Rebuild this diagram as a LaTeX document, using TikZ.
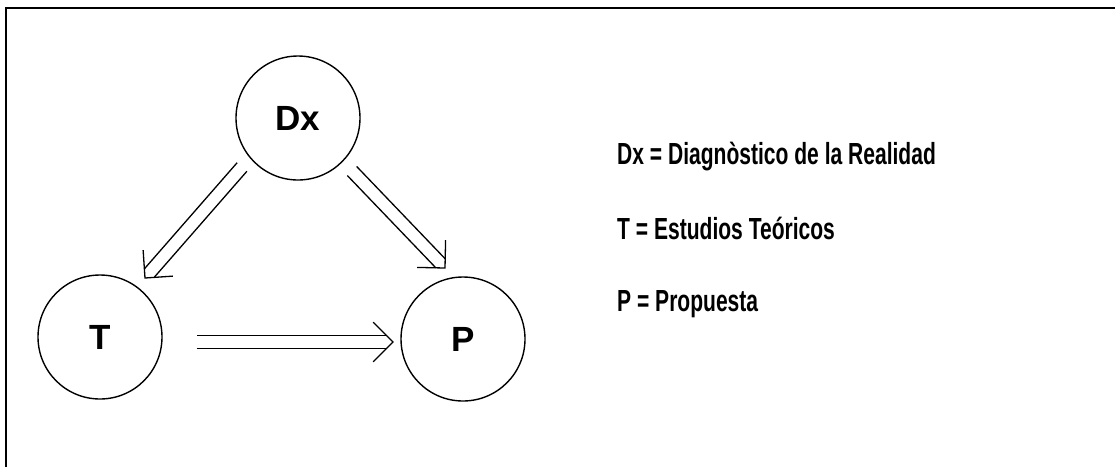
\documentclass[tikz,border=0pt]{standalone}
\usepackage{fontspec}
\setmainfont{Liberation Sans}
\newfontfamily\legfont[FakeStretch=0.69]{Liberation Sans}
\usetikzlibrary{calc}
\newcommand{\dblarr}[3]{%
  \coordinate (#3b) at ($(#2)!6.5pt!(#1)$);
  \draw[arr] ($(#1)!6.5pt!90:(#2)$) -- ($(#3b)!6.5pt!90:(#2)$);
  \draw[arr] ($(#1)!6.5pt!-90:(#2)$) -- ($(#3b)!6.5pt!-90:(#2)$);
  \draw[arr] ($(#2)!28pt!45:(#1)$) -- (#2) -- ($(#2)!28pt!-45:(#1)$);
}
\begin{document}
\begin{tikzpicture}[x=1pt,y=-1pt,
  circ/.style={circle,draw,line width=1.4pt,minimum size=124pt,inner sep=0pt,
    font=\fontsize{35}{35}\selectfont\bfseries},
  leg/.style={anchor=base west,inner sep=0pt,
    font=\legfont\fontsize{30.5}{30.5}\selectfont\bfseries},
  arr/.style={line width=1.3pt,line join=miter}]
\useasboundingbox (0,0) rectangle (1115,467);
\fill[white] (0,0) rectangle (1115,467);
\draw[line width=2pt] (6,467) -- (6,8) -- (1115,8);

\node[circ] (Dx) at (298,118) {Dx};
\node[circ] (T) at (100,337) {T};
\node[circ] (P) at (463,339) {P};

\coordinate (s1) at ($(Dx)+(-56,49)$);
\coordinate (t1) at ($(T)+(45,-59)$);
\coordinate (s2) at ($(Dx)+(54,53)$);
\coordinate (t2) at ($(P)+(-18,-71)$);
\coordinate (s3) at ($(T)+(97,5)$);
\coordinate (t3) at ($(P)+(-70,3)$);

\dblarr{s1}{t1}{a}
\dblarr{s2}{t2}{b}
\dblarr{s3}{t3}{c}

\node[leg] (l1) at (617,164) {Dx = Diagnòstico de la Realidad};
\node[leg] (l2) at (617,239) {T = Estudios Teóricos};
\node[leg] (l3) at (617,311) {P = Propuesta};
\end{tikzpicture}
\end{document}
